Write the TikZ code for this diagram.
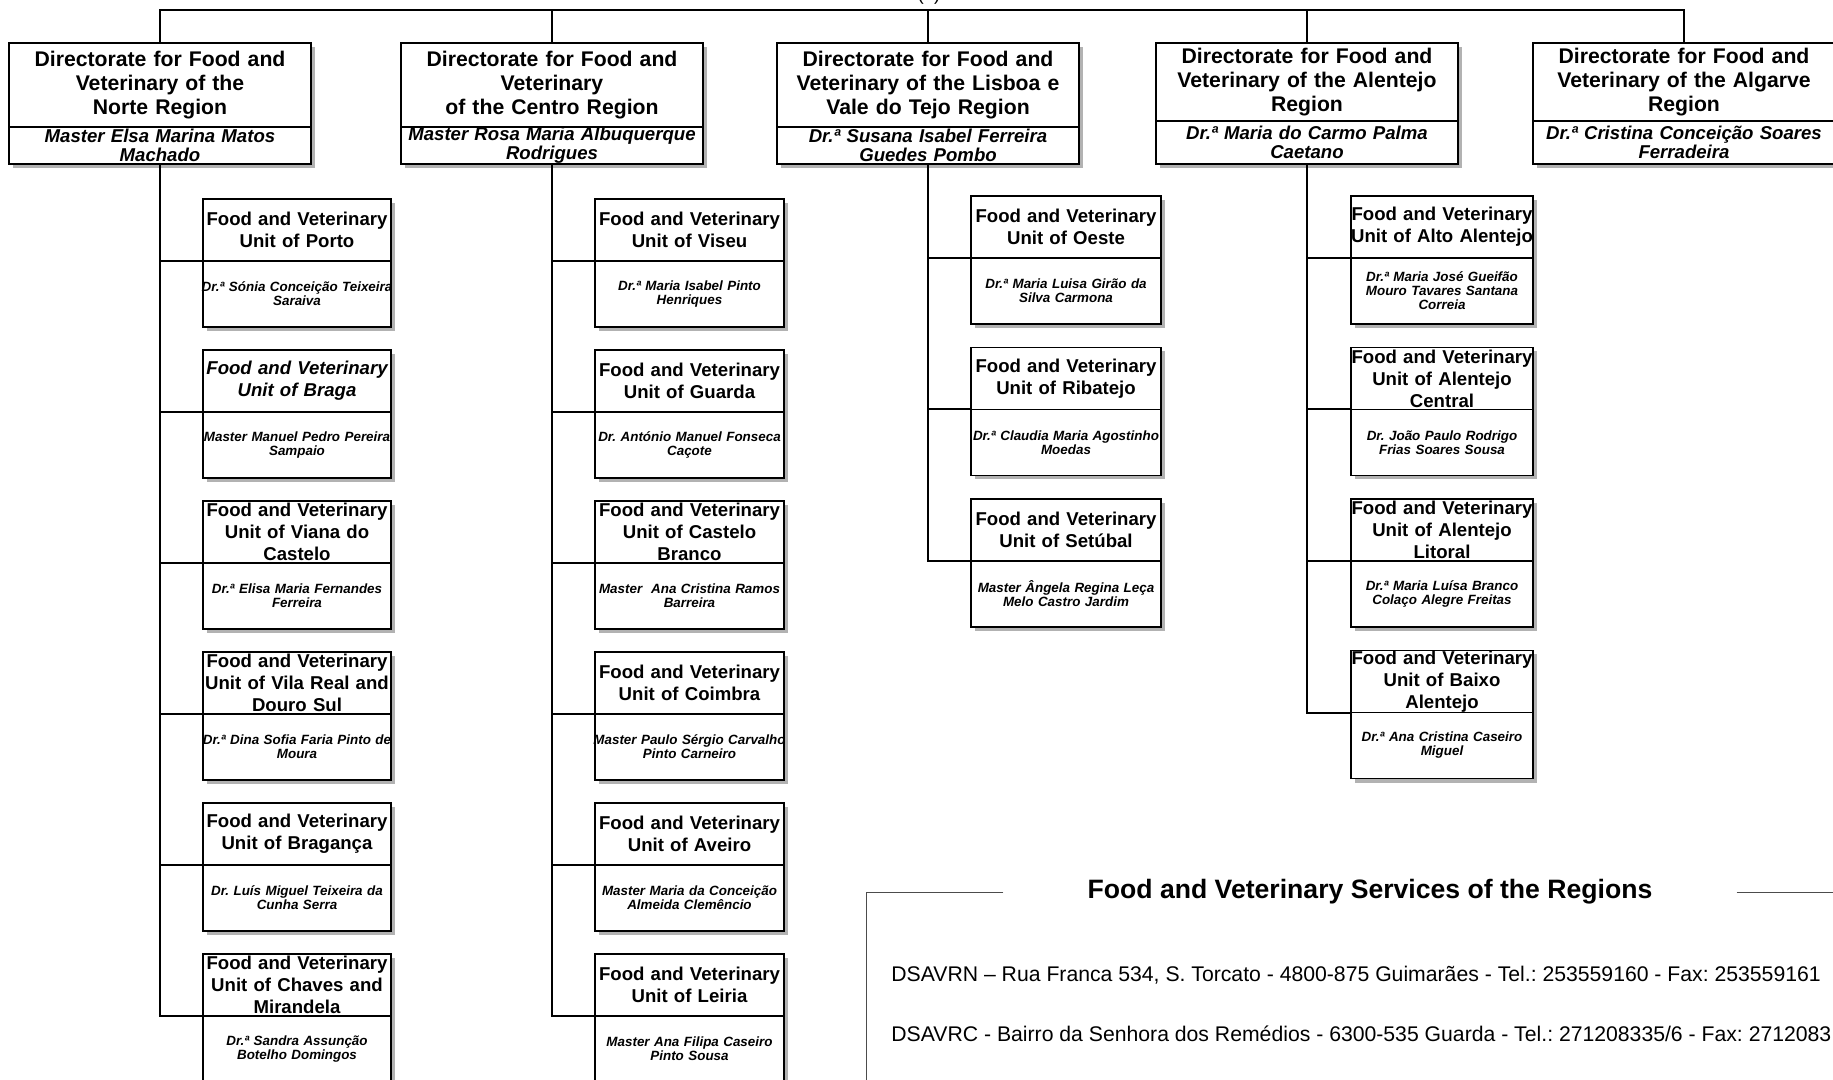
\documentclass[tikz,border=0pt]{standalone}
\usepackage{fontspec}
\setmainfont{Liberation Sans}
\usetikzlibrary{positioning,shadows}
\frenchspacing

\begin{document}
\begin{tikzpicture}[x=0.5pt, y=-0.5pt,
		box/.style={draw, fill=white, line width=0.6pt, outer sep=0pt,
			inner xsep=1pt, inner ysep=0pt, align=center,
			execute at begin node={\leftskip=-8pt plus 1fil\rightskip=-8pt plus 1fil
				\hyphenpenalty=10000\exhyphenpenalty=10000\relax},
			drop shadow={shadow xshift=2pt, shadow yshift=-2pt, fill=black!30, opacity=1}},
		dirtitle/.style={box, text width=149pt, minimum height=#1,
			font=\bfseries\fontsize{10.6}{12}\selectfont},
		dirname/.style={box, text width=149pt, minimum height=#1,
			font=\bfseries\itshape\fontsize{9.3}{9.4}\selectfont},
		unittitle/.style={box, text width=#1, minimum height=31pt,
			font=\bfseries\fontsize{9.3}{11}\selectfont},
		unitname/.style={box, text width=#1, minimum height=33pt,
			font=\bfseries\itshape\fontsize{6.7}{7}\selectfont},
		tree/.style={line width=1pt},
		frame/.style={line width=0.5pt, black!70},
		addr/.style={anchor=base west, inner sep=0pt, font=\fontsize{10.6}{12}\selectfont}]
	\useasboundingbox (0,0) rectangle (1833,1080);
	\clip (0,0) rectangle (1833,1080);
	
	% top of the tree
	\coordinate (root) at (929,10);
	\node[anchor=base, inner sep=0pt, font=\fontsize{9.3}{11}\selectfont] (rootlbl) at (929,1) {(1)};
	
	% directorates
	\foreach \x/\h/\k/\t/\n [count=\d] in {
		9/42/18.5/{Directorate for Food and\\Veterinary of the\\Norte Region}/{Master Elsa Marina Matos\\Machado},
		401/42/18.5/{Directorate for Food and\\Veterinary\\of the Centro Region}/{Master Rosa Maria Albuquerque\\Rodrigues},
		777/42/18.5/{Directorate for Food and\\Veterinary of the Lisboa e\\Vale do Tejo Region}/{Dr.ª Susana Isabel Ferreira\\Guedes Pombo},
		1156/39/21.5/{Directorate for Food and\\Veterinary of the Alentejo\\Region}/{Dr.ª Maria do Carmo Palma\\Caetano},
		1533/39/21.5/{Directorate for Food and\\Veterinary of the Algarve\\Region}/{Dr.ª Cristina Conceição Soares\\Ferradeira}} {
		\node[dirtitle=\h pt, anchor=north west] (dt\d) at (\x,43) {\t};
		\node[dirname=\k pt, below=0pt of dt\d] (dn\d) {\n};
		\draw[tree] (root) -| (dt\d.north);
	};
	
	% units of the Norte region
	\foreach \t/\n [count=\r] in {
		{Food and Veterinary\\Unit of Porto}/{Dr.ª Sónia Conceição Teixeira\\Saraiva},
		{\itshape Food and Veterinary\\Unit of Braga}/{Master Manuel Pedro Pereira\\Sampaio},
		{Food and Veterinary\\Unit of Viana do\\Castelo}/{Dr.ª Elisa Maria Fernandes\\Ferreira},
		{Food and Veterinary\\Unit of Vila Real and\\Douro Sul}/{Dr.ª Dina Sofia Faria Pinto de\\Moura},
		{Food and Veterinary\\Unit of Bragança}/{Dr. Luís Miguel Teixeira da\\Cunha Serra},
		{Food and Veterinary\\Unit of Chaves and\\Mirandela}/{Dr.ª Sandra Assunção\\Botelho Domingos}} {
		\node[unittitle=92pt, anchor=north west] (nt\r) at (203,{199+151*(\r-1)}) {\t};
		\node[unitname=92pt, below=0pt of nt\r] (nn\r) {\n};
		\draw[tree] (dn1.south) |- (nt\r.south west);
	};
	
	% units of the Centro region
	\foreach \t/\n [count=\r] in {
		{Food and Veterinary\\Unit of Viseu}/{Dr.ª Maria Isabel Pinto\\Henriques},
		{Food and Veterinary\\Unit of Guarda}/{Dr. António Manuel Fonseca\\Caçote},
		{Food and Veterinary\\Unit of Castelo\\Branco}/{Master~~Ana Cristina Ramos\\Barreira},
		{Food and Veterinary\\Unit of Coimbra}/{Master Paulo Sérgio Carvalho\\Pinto Carneiro},
		{Food and Veterinary\\Unit of Aveiro}/{Master Maria da Conceição\\Almeida Clemêncio},
		{Food and Veterinary\\Unit of Leiria}/{Master Ana Filipa Caseiro\\Pinto Sousa}} {
		\node[unittitle=92.5pt, anchor=north west] (ct\r) at (595,{199+151*(\r-1)}) {\t};
		\node[unitname=92.5pt, below=0pt of ct\r] (cn\r) {\n};
		\draw[tree] (dn2.south) |- (ct\r.south west);
	};
	
	% units of Lisboa e Vale do Tejo
	\foreach \t/\n [count=\r] in {
		{Food and Veterinary\\Unit of Oeste}/{Dr.ª Maria Luisa Girão da\\Silva Carmona},
		{Food and Veterinary\\Unit of Ribatejo}/{Dr.ª Claudia Maria Agostinho\\Moedas},
		{Food and Veterinary\\Unit of Setúbal}/{Master Ângela Regina Leça\\Melo Castro Jardim}} {
		\node[unittitle=93pt, anchor=north west] (lt\r) at (971,{196+151.5*(\r-1)}) {\t};
		\node[unitname=93pt, below=0pt of lt\r] (ln\r) {\n};
		\draw[tree] (dn3.south) |- (lt\r.south west);
	};
	
	% units of the Alentejo region
	\foreach \t/\n [count=\r] in {
		{Food and Veterinary\\Unit of Alto Alentejo}/{Dr.ª Maria José Gueifão\\Mouro Tavares Santana\\Correia},
		{Food and Veterinary\\Unit of Alentejo\\Central}/{Dr. João Paulo Rodrigo\\Frias Soares Sousa},
		{Food and Veterinary\\Unit of Alentejo\\Litoral}/{Dr.ª Maria Luísa Branco\\Colaço Alegre Freitas},
		{Food and Veterinary\\Unit of Baixo\\Alentejo}/{Dr.ª Ana Cristina Caseiro\\Miguel}} {
		\node[unittitle=89pt, anchor=north west] (at\r) at (1351,{196+151.5*(\r-1)}) {\t};
		\node[unitname=89pt, below=0pt of at\r] (an\r) {\n};
		\draw[tree] (dn4.south) |- (at\r.south west);
	};
	
	% services of the regions
	\node[inner xsep=42pt, font=\bfseries\fontsize{13.3}{15}\selectfont] (serv) at (1370,892)
		{Food and Veterinary Services of the Regions};
	\coordinate (frameL) at (866,1090);
	\coordinate (frameR) at (1840,892);
	\draw[frame] (serv.west) -| (frameL);
	\draw[frame] (serv.east) -- (frameR);
	\node[addr] (dsavrn) at (891,981)
		{DSAVRN – Rua Franca 534, S. Torcato - 4800-875 Guimarães - Tel.: 253559160 - Fax: 253559161};
	\node[addr] (dsavrc) at (891,1041)
		{DSAVRC - Bairro da Senhora dos Remédios - 6300-535 Guarda - Tel.: 271208335/6 - Fax: 2712083};
\end{tikzpicture}
\end{document}
